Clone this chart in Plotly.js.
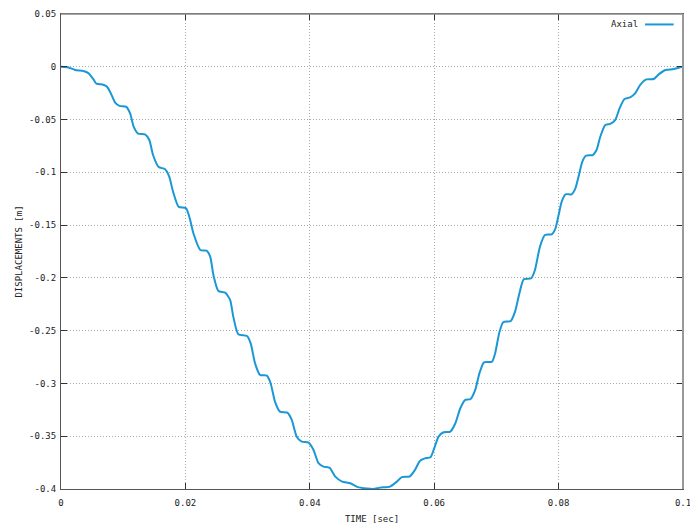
<!DOCTYPE html>
<html>
<head>
<meta charset="utf-8">
<script src="https://cdn.plot.ly/plotly-3.0.1.min.js"></script>
<style>html,body{margin:0;padding:0;background:#fff;}#chart{width:690px;height:524px;}</style>
</head>
<body>
<div id="chart"></div>
<script>
// Time [sec]
const timeSec = [
  0, 0.0012, 0.00225, 0.0036, 0.0044, 0.0052, 0.0057, 0.0068, 0.0074, 0.008,
  0.0087, 0.0094, 0.0105, 0.0111, 0.0117, 0.0124, 0.0135, 0.0142, 0.0148, 0.0157,
  0.0167, 0.0174, 0.018, 0.0189, 0.0201, 0.0207, 0.0213, 0.0224, 0.0234, 0.024,
  0.0245, 0.0253, 0.0264, 0.0272, 0.0277, 0.0285, 0.0299, 0.0305, 0.0312, 0.032,
  0.0331, 0.0337, 0.0344, 0.0352, 0.0364, 0.0371, 0.0379, 0.0387, 0.0398, 0.0406,
  0.0414, 0.0422, 0.0432, 0.0441, 0.0452, 0.0465, 0.0476, 0.0492, 0.0502, 0.0513,
  0.0529, 0.054, 0.0548, 0.0561, 0.0569, 0.0577, 0.0585, 0.0594, 0.06, 0.0607,
  0.0615, 0.0626, 0.0634, 0.0642, 0.065, 0.0658, 0.0666, 0.0673, 0.068, 0.0693,
  0.0698, 0.0705, 0.0711, 0.0723, 0.073, 0.0737, 0.0744, 0.0756, 0.0762, 0.077,
  0.0778, 0.0789, 0.0795, 0.08, 0.0805, 0.0811, 0.0821, 0.0827, 0.0832, 0.0838,
  0.0844, 0.0855, 0.0861, 0.0867, 0.0875, 0.0883, 0.0891, 0.0898, 0.0906, 0.0915,
  0.0923, 0.0931, 0.0941, 0.0953, 0.0961, 0.0972, 0.0985, 0.0993, 0.1
];
// Axial displacement [m]
const axialDisp = [
  0, -0.0006, -0.003, -0.004, -0.006, -0.0117, -0.016, -0.017, -0.019, -0.025,
  -0.034, -0.037, -0.038, -0.044, -0.057, -0.0634, -0.064, -0.0694, -0.0836, -0.095,
  -0.0969, -0.104, -0.118, -0.1326, -0.134, -0.1436, -0.158, -0.1736, -0.1742, -0.180,
  -0.1973, -0.2124, -0.214, -0.221, -0.2367, -0.2534, -0.255, -0.262, -0.281, -0.292,
  -0.2926, -0.2998, -0.3172, -0.3267, -0.3277, -0.3346, -0.3504, -0.3551, -0.356, -0.363,
  -0.3756, -0.3788, -0.380, -0.3883, -0.393, -0.3945, -0.398, -0.3996, -0.400, -0.3987,
  -0.3977, -0.393, -0.3888, -0.388, -0.382, -0.3734, -0.371, -0.370, -0.3614, -0.3504,
  -0.3462, -0.3456, -0.3377, -0.3235, -0.3156, -0.315, -0.306, -0.2898, -0.280, -0.2794,
  -0.2714, -0.251, -0.242, -0.2408, -0.232, -0.2146, -0.2013, -0.2004, -0.1925, -0.1705,
  -0.1594, -0.1587, -0.153, -0.1404, -0.1278, -0.1208, -0.1208, -0.1152, -0.1042, -0.090,
  -0.0843, -0.0836, -0.0789, -0.0663, -0.0552, -0.054, -0.0505, -0.0394, -0.0306, -0.029,
  -0.0252, -0.0173, -0.012, -0.0116, -0.0072, -0.0031, -0.0022, -0.0009, 0
];
const xTickVals = [0, 0.02, 0.04, 0.06, 0.08, 0.1];
const xTickText = ["0", "0.02", "0.04", "0.06", "0.08", "0.1"];
const yTickVals = [0.05, 0, -0.05, -0.1, -0.15, -0.2, -0.25, -0.3, -0.35, -0.4];
const yTickText = ["0.05", "0", "-0.05", "-0.1", "-0.15", "-0.2", "-0.25", "-0.3", "-0.35", "-0.4"];
const seriesName = "Axial";
const lineColor = "#1a98d5";

const font = {family: "DejaVu Sans Mono, monospace", size: 9, color: "#222"};
const axisCommon = {
  showline: true, linecolor: "#555", linewidth: 1, mirror: "ticks",
  ticks: "inside", ticklen: 6, tickcolor: "#333", tickwidth: 1,
  showgrid: true, gridcolor: "#a8a8a8", griddash: "1px,2px", gridwidth: 1,
  zeroline: false, tickfont: font, automargin: false, ticklabeloverflow: "allow"
};

const trace = {
  x: timeSec, y: axialDisp, type: "scatter", mode: "lines", name: seriesName,
  line: {color: lineColor, width: 2, shape: "spline", smoothing: 0.6},
  showlegend: false, cliponaxis: true
};

const layout = {
  width: 690, height: 524,
  margin: {l: 61, r: 7, t: 14, b: 35},
  paper_bgcolor: "#fff", plot_bgcolor: "#fff",
  font: font,
  showlegend: false,
  xaxis: Object.assign({}, axisCommon, {
    range: [0, 0.1], tickvals: xTickVals, ticktext: xTickText, ticklabelstandoff: 5,
    title: {text: "TIME [sec]", font: font, standoff: 8}
  }),
  yaxis: Object.assign({}, axisCommon, {
    range: [-0.4, 0.05], tickvals: yTickVals, ticktext: yTickText, ticklabelstandoff: 2,
    title: {text: "DISPLACEMENTS [m]", font: font, standoff: 4}
  }),
  shapes: [
    {type: "line", xref: "paper", yref: "paper", x0: 0, x1: 1, y0: 1, y1: 1, line: {color: "#8a8a8a", width: 1.5}, layer: "above"},
    {type: "line", xref: "paper", yref: "paper", x0: 1, x1: 1, y0: 0, y1: 1, line: {color: "#999", width: 2}, layer: "above"},
    {type: "line", xref: "paper", yref: "paper", x0: 0.939, x1: 0.985, y0: 0.978, y1: 0.978, line: {color: lineColor, width: 2}}
  ],
  annotations: [
    {xref: "paper", yref: "paper", x: 0.931, y: 0.978, xanchor: "right", yanchor: "middle",
     text: seriesName, showarrow: false, font: font}
  ]
};

Plotly.newPlot("chart", [trace], layout, {staticPlot: true, displayModeBar: false});
</script>
</body>
</html>
